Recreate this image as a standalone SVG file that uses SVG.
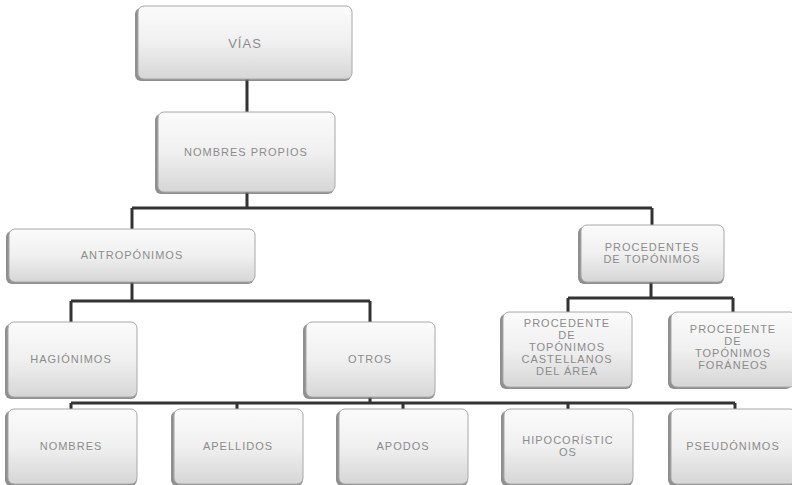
<svg xmlns="http://www.w3.org/2000/svg" width="792" height="485" viewBox="0 0 792 485">
<defs>
<linearGradient id="g" x1="0" y1="0" x2="0" y2="1">
<stop offset="0" stop-color="#fbfbfb"/>
<stop offset="0.5" stop-color="#f0f0f0"/>
<stop offset="1" stop-color="#d6d6d6"/>
</linearGradient>
<linearGradient id="side" x1="0" y1="0" x2="1" y2="0">
<stop offset="0" stop-color="#ffffff" stop-opacity="0"/>
<stop offset="1" stop-color="#bbbbbb" stop-opacity="0.6"/>
</linearGradient>
</defs>
<style>
.sh{fill:#6a6a6a;opacity:0.75}
.bx{fill:url(#g);stroke:#a8a8a8;stroke-width:1}
.t{font-family:"Liberation Sans",Arial,sans-serif;font-size:11px;fill:#8c8c8c;text-anchor:middle;letter-spacing:1px}
.c{fill:none;stroke:#333;stroke-width:3}
</style>
<rect width="792" height="485" fill="#fff"/>
<g id="connectors">
<path class="c" d="M247 79V112M247 192V208M132 208H652M132 208V229M652 208V225"/>
<path class="c" d="M132 282V301M71 301H370M71 301V322M370 301V322"/>
<path class="c" d="M651 282V298M568 298H733M568 298V312M733 298V312"/>
<path class="c" d="M370 397V403M71 403H735M71 403V409M237 403V409M403 403V409M568 403V409M735 403V409"/>
</g>
<g id="vias"><rect class="sh" x="135" y="8" width="216" height="73" rx="6"/><rect class="bx" x="138" y="6" width="214" height="73" rx="6"/><text class="t" x="245" y="48" style="font-size:13px">VÍAS</text></g>
<g id="nombres-propios"><rect class="sh" x="155" y="114" width="179" height="80" rx="6"/><rect class="bx" x="158" y="112" width="177" height="80" rx="6"/><text class="t" x="246" y="156">NOMBRES PROPIOS</text></g>
<g id="antroponimos"><rect class="sh" x="6" y="231" width="248" height="53" rx="6"/><rect class="bx" x="9" y="229" width="246" height="53" rx="6"/><text class="t" x="132" y="259">ANTROPÓNIMOS</text></g>
<g id="procedentes"><rect class="sh" x="578" y="227" width="146" height="57" rx="6"/><rect class="bx" x="581" y="225" width="143" height="57" rx="6"/><text class="t" x="652" y="251">PROCEDENTES</text><text class="t" x="652" y="263">DE TOPÓNIMOS</text></g>
<g id="hagionimos"><rect class="sh" x="5" y="324" width="132" height="75" rx="6"/><rect class="bx" x="8" y="322" width="129" height="75" rx="6"/><text class="t" x="71" y="363">HAGIÓNIMOS</text></g>
<g id="otros"><rect class="sh" x="303" y="324" width="132" height="75" rx="6"/><rect class="bx" x="306" y="322" width="129" height="75" rx="6"/><text class="t" x="370" y="363">OTROS</text></g>
<g id="proc-castellanos"><rect class="sh" x="500" y="314" width="132" height="75" rx="6"/><rect class="bx" x="503" y="312" width="129" height="75" rx="6"/><text class="t" x="567" y="327">PROCEDENTE</text><text class="t" x="567" y="339">DE</text><text class="t" x="567" y="351">TOPÓNIMOS</text><text class="t" x="567" y="363">CASTELLANOS</text><text class="t" x="567" y="375">DEL ÁREA</text></g>
<g id="proc-foraneos"><rect class="sh" x="668" y="314" width="124" height="75" rx="6"/><rect class="bx" x="671" y="312" width="125" height="75" rx="6"/><text class="t" x="733" y="333">PROCEDENTE</text><text class="t" x="733" y="345">DE</text><text class="t" x="733" y="357">TOPÓNIMOS</text><text class="t" x="733" y="369">FORÁNEOS</text></g>
<g id="nombres"><rect class="sh" x="5" y="411" width="132" height="75" rx="6"/><rect class="bx" x="8" y="409" width="129" height="75" rx="6"/><text class="t" x="71" y="450">NOMBRES</text></g>
<g id="apellidos"><rect class="sh" x="171" y="411" width="132" height="75" rx="6"/><rect class="bx" x="174" y="409" width="129" height="75" rx="6"/><text class="t" x="238" y="450">APELLIDOS</text></g>
<g id="apodos"><rect class="sh" x="336" y="411" width="132" height="75" rx="6"/><rect class="bx" x="339" y="409" width="129" height="75" rx="6"/><text class="t" x="403" y="450">APODOS</text></g>
<g id="hipocoristicos"><rect class="sh" x="501" y="411" width="132" height="75" rx="6"/><rect class="bx" x="504" y="409" width="129" height="75" rx="6"/><text class="t" x="568" y="444">HIPOCORÍSTIC</text><text class="t" x="568" y="456">OS</text></g>
<g id="pseudonimos"><rect class="sh" x="668" y="411" width="128" height="75" rx="6"/><rect class="bx" x="671" y="409" width="125" height="75" rx="6"/><text class="t" x="733" y="450">PSEUDÓNIMOS</text></g>
</svg>
